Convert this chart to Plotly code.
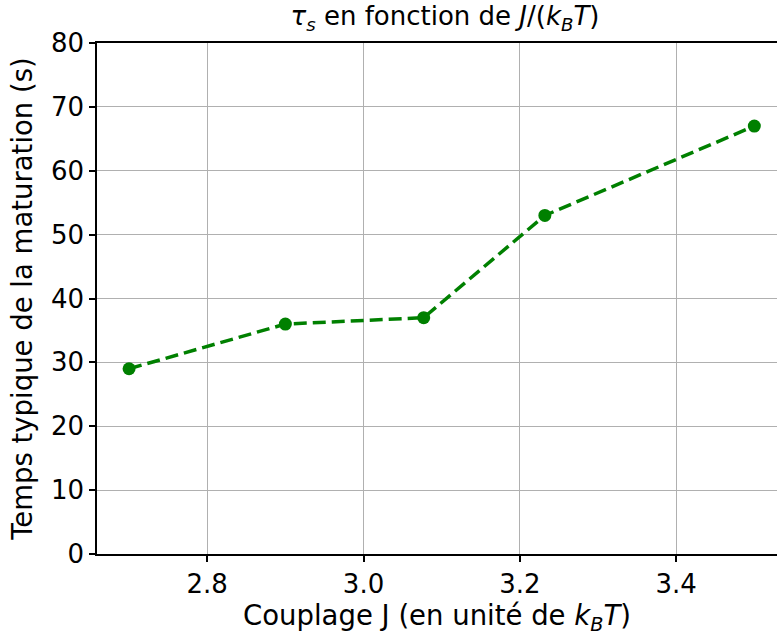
import plotly.graph_objects as go

couplage = [2.7, 2.9, 3.077, 3.232, 3.5]
temps = [29, 36, 37, 53, 67]
xticks = [2.8, 3.0, 3.2, 3.4]
xtick_labels = ["2.8", "3.0", "3.2", "3.4"]
yticks = [0, 10, 20, 30, 40, 50, 60, 70, 80]

fig = go.Figure()
fig.add_trace(go.Scatter(
    x=couplage, y=temps, mode="lines+markers",
    line=dict(color="green", width=3.5, dash="13px,6px"),
    marker=dict(color="green", size=13),
    showlegend=False,
))

font = "DejaVu Sans, sans-serif"
fig.update_layout(
    width=777, height=637,
    margin=dict(l=97, r=0, t=43, b=83),
    paper_bgcolor="white", plot_bgcolor="white",
    font=dict(family=font, color="black", size=26),
    title=dict(
        text="<i>τ<sub>s</sub></i> en fonction de <i>J</i>/(<i>k<sub>B</sub>T</i>)",
        x=445 / 777, xref="container", xanchor="center",
        y=1, yref="container", yanchor="top", pad=dict(t=7),
        font=dict(size=26, family=font),
    ),
    xaxis=dict(
        range=[2.659, 3.529],
        tickvals=xticks, ticktext=xtick_labels,
        showgrid=True, gridcolor="#b0b0b0", gridwidth=1,
        showline=True, linecolor="black", linewidth=1.5, mirror=True,
        ticks="outside", ticklen=6, tickcolor="black", tickwidth=1.5,
        tickfont=dict(size=26),
        zeroline=False,
        title=dict(text="Couplage J (en unité de <i>k<sub>B</sub>T</i>)",
                   font=dict(size=27.5), standoff=6),
    ),
    yaxis=dict(
        range=[0, 80],
        tickvals=yticks,
        showgrid=True, gridcolor="#b0b0b0", gridwidth=1,
        showline=True, linecolor="black", linewidth=1.5,
        ticks="outside", ticklen=6, tickcolor="black", tickwidth=1.5,
        tickfont=dict(size=26),
        zeroline=False,
        title=dict(text="Temps typique de la maturation (s)",
                   font=dict(size=27.5), standoff=10),
    ),
)

fig.write_html("out.html", config={"displayModeBar": False})

with open("out.html", "r", encoding="utf-8") as f:
    html = f.read()
html = html.replace("<head>", "<head><style>html,body{margin:0;padding:0;overflow:hidden;}</style>", 1)
with open("out.html", "w", encoding="utf-8") as f:
    f.write(html)
